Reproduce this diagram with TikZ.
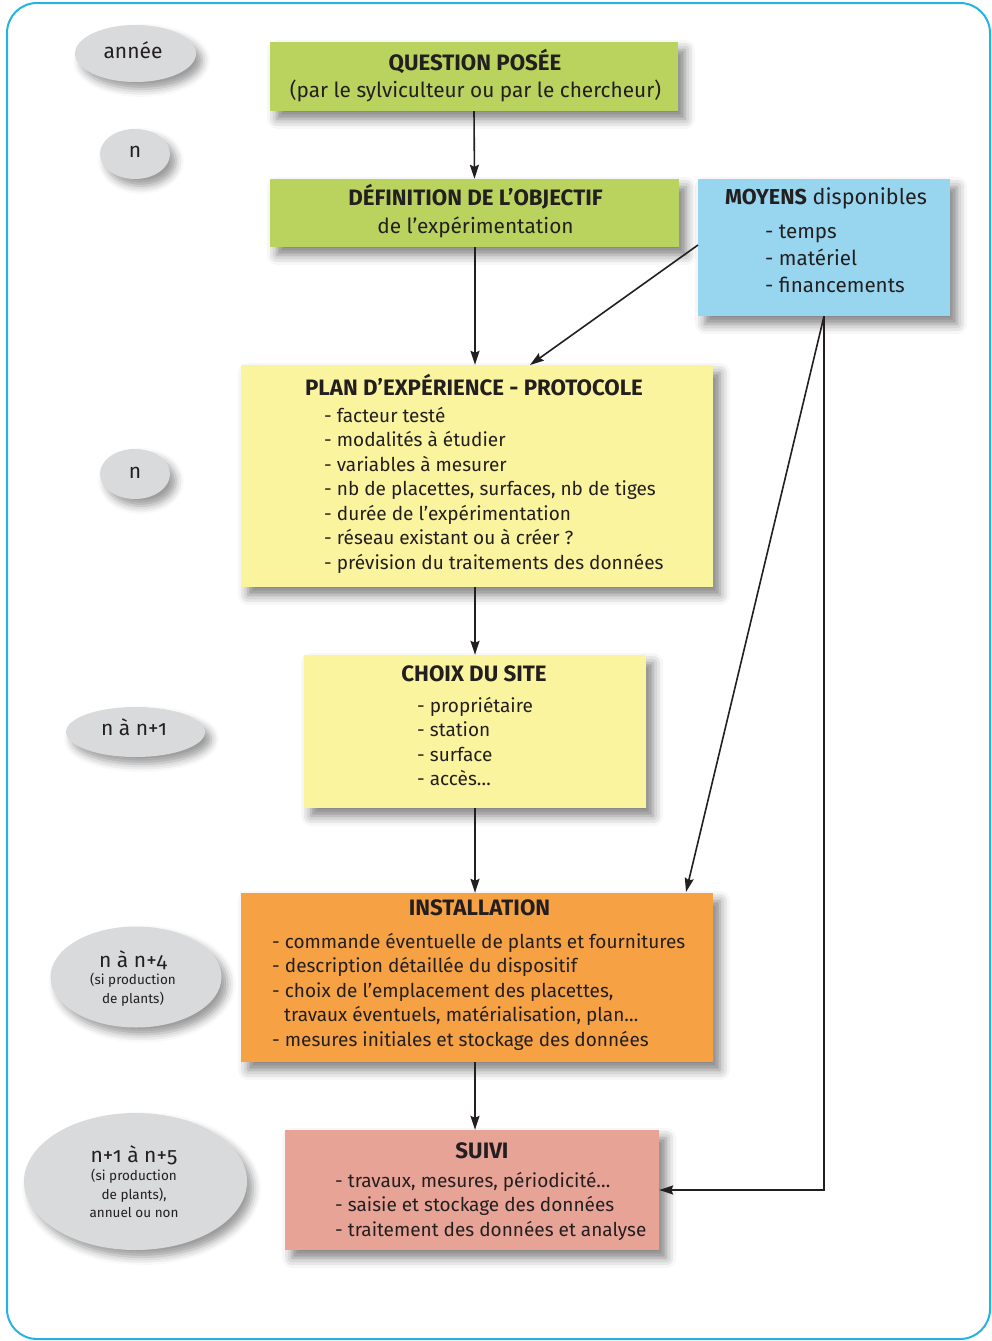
\documentclass[tikz,border=0pt]{standalone}
\usepackage{fontspec}
\setmainfont{Fira Sans}[Numbers=OldStyle]
\usetikzlibrary{arrows.meta,shapes.geometric,shadows.blur,calc}
\definecolor{txt}{HTML}{231F20}
\definecolor{frameblue}{HTML}{27B2E6}
\definecolor{cgreen}{HTML}{BAD35E}
\definecolor{cblue}{HTML}{97D6EE}
\definecolor{cyellow}{HTML}{FBF49E}
\definecolor{corange}{HTML}{F6A244}
\definecolor{cpink}{HTML}{E8A397}
\definecolor{cgray}{HTML}{D9DADB}
\begin{document}
\begin{tikzpicture}[x=1pt,y=-1pt,
  box/.style={rectangle, inner sep=0pt, draw=none,
    blur shadow={shadow xshift=7pt, shadow yshift=-8pt, shadow blur radius=10pt, shadow opacity=50}},
  yearell/.style={ellipse, inner sep=0pt, fill=cgray, draw=none,
    blur shadow={shadow xshift=6pt, shadow yshift=-7pt, shadow blur radius=8pt, shadow opacity=40}},
  ttl/.style={font=\fontsize{22.3}{26}\selectfont\bfseries, text=txt, inner sep=0pt, anchor=base},
  itm/.style={font=\fontsize{19}{24}\selectfont, text=txt, inner sep=0pt, anchor=base west},
  sub/.style={font=\fontsize{20.8}{24}\selectfont, text=txt, inner sep=0pt, anchor=base},
  ctr/.style={font=\fontsize{21}{24}\selectfont, text=txt, inner sep=0pt, anchor=base},
  sml/.style={font=\fontsize{13.5}{16}\selectfont, text=txt, inner sep=0pt, anchor=base},
  arr/.style={draw=txt, line width=1.6pt, -{Stealth[length=14pt,width=9pt,inset=2pt]}}
]
\useasboundingbox (0,0) rectangle (992,1341);
\draw[frameblue, line width=2pt, rounded corners=30pt] (7,3) rectangle (990,1339);

% boxes
\node[box, fill=cgreen, minimum width=408pt, minimum height=69pt] (q) at (474,76.5) {};
\node[box, fill=cgreen, minimum width=409pt, minimum height=68pt] (def) at (474.5,213) {};
\node[box, fill=cblue, minimum width=252pt, minimum height=137pt] (moy) at (824,247.5) {};
\node[box, fill=cyellow, minimum width=472pt, minimum height=222pt] (plan) at (477,476) {};
\node[box, fill=cyellow, minimum width=342pt, minimum height=153pt] (choix) at (475,731.5) {};
\node[box, fill=corange, minimum width=472pt, minimum height=169pt] (inst) at (477,977.5) {};
\node[box, fill=cpink, minimum width=374pt, minimum height=120pt] (suivi) at (472,1190) {};

% ellipses
\node[yearell, minimum width=121pt, minimum height=57pt] (e0) at (135.5,53.5) {};
\node[yearell, minimum width=70pt, minimum height=50pt] (e1) at (135,154) {};
\node[yearell, minimum width=70pt, minimum height=50pt] (e2) at (135,474) {};
\node[yearell, minimum width=139pt, minimum height=50pt] (e3) at (135.5,732) {};
\node[yearell, minimum width=171pt, minimum height=101pt] (e4) at (136,977) {};
\node[yearell, minimum width=223pt, minimum height=137pt] (e5) at (135.5,1181.5) {};

\node[ctr] (e0t) at (133,58) {année};
\node[ctr] (e1t) at (135,157) {n};
\node[ctr] (e2t) at (135,478) {n};
\node[ctr] (e3t) at (134,735) {n à n+1};
\node[ctr] (e4t) at (133,967) {n à n+4};
\node[sml] (e4a) at (133,984) {(si production};
\node[sml] (e4b) at (133,1003) {de plants)};
\node[ctr] (e5t) at (134,1162) {n+1 à n+5};
\node[sml] (e5a) at (134,1180) {(si production};
\node[sml] (e5b) at (134,1199) {de plants),};
\node[sml] (e5c) at (134,1217) {annuel ou non};

% texts
\node[ttl] (qt) at (475,70) {QUESTION POSÉE};
\node[sub] (qs) at (475.5,97) {(par le sylviculteur ou par le chercheur)};
\node[ttl] (dt) at (475.5,205) {DÉFINITION DE L’OBJECTIF};
\node[sub] (ds) at (475.5,233) {de l’expérimentation};

\node[itm, anchor=base west] (mt) at (725,204) {\fontsize{21.6}{24}\selectfont\textbf{MOYENS} disponibles};
\foreach \t [count=\i] in {- temps, - matériel, - financements}
  \node[itm, font=\fontsize{20.6}{24}\selectfont] (m\i) at (765,{238+27*(\i-1)}) {\t};

\node[ttl] (pt) at (474,395) {PLAN D’EXPÉRIENCE - PROTOCOLE};
\foreach \t [count=\i] in {- facteur testé, - modalités à étudier, - variables à mesurer,
  {- nb de placettes, surfaces, nb de tiges}, - durée de l’expérimentation,
  - réseau existant ou à créer ?, - prévision du traitements des données}
  \node[itm] (p\i) at (324,{422+24.5*(\i-1)}) {\t};

\node[ttl] (ct) at (474,681) {CHOIX DU SITE};
\foreach \t [count=\i] in {- propriétaire, - station, - surface, - accès…}
  \node[itm] (c\i) at (417,{712+24.6*(\i-1)}) {\t};

\node[ttl] (it) at (479.5,915) {INSTALLATION};
\node[itm] (i1) at (272,948) {- commande éventuelle de plants et fournitures};
\node[itm] (i2) at (272,972.5) {- description détaillée du dispositif};
\node[itm] (i3) at (272,997) {- choix de l’emplacement des placettes,};
\node[itm] (i4) at (284,1021.5) {travaux éventuels, matérialisation, plan…};
\node[itm] (i5) at (272,1046) {- mesures initiales et stockage des données};

\node[ttl] (st) at (482,1158) {SUIVI};
\foreach \t [count=\i] in {{- travaux, mesures, périodicité…}, - saisie et stockage des données, - traitement des données et analyse}
  \node[itm] (s\i) at (335,{1187+24.5*(\i-1)}) {\t};

% connectors
\coordinate (planin) at (530,365);
\coordinate (instin) at (686,892);
\coordinate (moyout) at (698,245);
\draw[arr] (q.south) -- (def.north);
\draw[arr] (def.south -| 475,0) -- (plan.north -| 475,0);
\draw[arr] (moyout) -- (planin);
\draw[arr] (plan.south -| 475,0) -- (choix.north -| 475,0);
\draw[arr] (choix.south -| 475,0) -- (inst.north -| 475,0);
\draw[arr] (inst.south -| 475,0) -- (suivi.north -| 475,0);
\draw[arr] (moy.south) -- (instin);
\draw[arr] (moy.south) |- (suivi.east |- 0,1190);
\end{tikzpicture}
\end{document}
